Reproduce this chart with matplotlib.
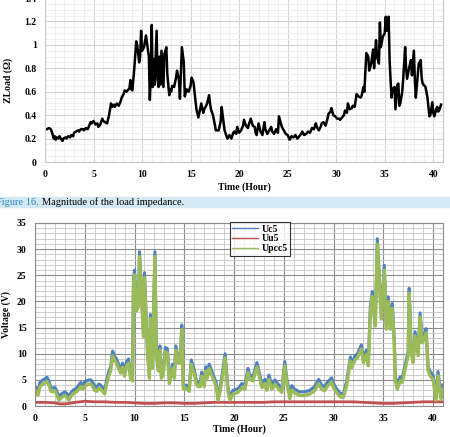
import matplotlib.pyplot as plt
from matplotlib.ticker import MultipleLocator
import matplotlib.patches as mpatches

# Load impedance (top chart)
z_time = [0.0, 0.2, 0.4, 0.6, 0.7, 0.9, 1.0, 1.1, 1.2, 1.4, 1.5, 1.7, 1.8, 1.9, 2.1, 2.2, 2.4, 2.6,
          2.7, 2.9, 3.0, 3.2, 3.4, 3.5, 3.7, 3.9, 4.0, 4.2, 4.4, 4.5, 4.7, 4.8, 5.0, 5.2, 5.4, 5.5,
          5.7, 5.9, 6.0, 6.2, 6.4, 6.6, 6.8, 6.9, 7.1, 7.2, 7.4, 7.6, 7.8, 7.9, 8.1, 8.2, 8.4, 8.6,
          8.7, 8.8, 8.9, 9.0, 9.2, 9.4, 9.5, 9.7, 9.8, 9.9, 10.0, 10.2, 10.4, 10.5, 10.7, 10.8, 10.9,
          11.0, 11.1, 11.2, 11.3, 11.5, 11.6, 11.7, 11.8, 11.9, 12.0, 12.1, 12.2, 12.3, 12.5, 12.6,
          12.8, 12.9, 13.0, 13.1, 13.3, 13.5, 13.6, 13.8, 13.9, 14.1, 14.3, 14.4, 14.6, 14.8, 15.0,
          15.1, 15.3, 15.4, 15.6, 15.8, 15.9, 16.1, 16.3, 16.4, 16.6, 16.7, 16.9, 17.0, 17.1, 17.3,
          17.4, 17.6, 17.9, 18.1, 18.2, 18.3, 18.5, 18.7, 18.8, 19.0, 19.2, 19.4, 19.5, 19.7, 19.8,
          20.0, 20.2, 20.4, 20.5, 20.7, 20.9, 21.0, 21.2, 21.4, 21.6, 21.7, 21.8, 22.0, 22.2, 22.4,
          22.6, 22.7, 22.9, 23.1, 23.3, 23.4, 23.6, 23.8, 24.0, 24.1, 24.3, 24.4, 24.6, 24.8, 25.0,
          25.2, 25.4, 25.6, 25.8, 26.0, 26.2, 26.4, 26.5, 26.7, 26.9, 27.1, 27.3, 27.5, 27.7, 27.9,
          28.0, 28.2, 28.4, 28.5, 28.7, 28.9, 29.1, 29.2, 29.4, 29.5, 29.7, 29.9, 30.1, 30.3, 30.4,
          30.6, 30.8, 30.9, 31.1, 31.2, 31.4, 31.6, 31.7, 31.9, 32.1, 32.3, 32.5, 32.6, 32.8, 32.9,
          33.1, 33.3, 33.4, 33.6, 33.8, 33.9, 34.1, 34.2, 34.4, 34.5, 34.6, 34.8, 35.0, 35.1, 35.2,
          35.4, 35.5, 35.6, 35.7, 35.8, 36.0, 36.1, 36.3, 36.4, 36.5, 36.6, 36.8, 36.9, 37.1, 37.2,
          37.3, 37.5, 37.7, 37.8, 38.0, 38.1, 38.2, 38.4, 38.5, 38.7, 38.8, 38.9, 39.1, 39.2, 39.4,
          39.6, 39.7, 39.9, 40.0, 40.1, 40.3, 40.4, 40.5, 40.6, 40.8]
z_load = [0.28, 0.28, 0.29, 0.28, 0.26, 0.20, 0.22, 0.19, 0.21, 0.20, 0.22, 0.19, 0.18, 0.20, 0.21,
          0.20, 0.22, 0.21, 0.23, 0.22, 0.25, 0.26, 0.27, 0.26, 0.28, 0.28, 0.27, 0.29, 0.28, 0.30,
          0.34, 0.33, 0.35, 0.32, 0.33, 0.30, 0.32, 0.37, 0.35, 0.34, 0.33, 0.40, 0.50, 0.47, 0.49,
          0.47, 0.50, 0.48, 0.52, 0.55, 0.58, 0.61, 0.60, 0.62, 0.63, 0.70, 0.62, 0.61, 0.80, 1.03,
          1.00, 0.85, 0.90, 1.12, 0.95, 0.98, 1.08, 1.02, 0.90, 0.53, 0.75, 1.17, 0.64, 0.88, 0.66,
          1.12, 0.70, 0.64, 0.90, 0.66, 0.95, 0.80, 0.64, 0.92, 0.98, 0.75, 0.57, 0.62, 0.60, 0.65,
          0.64, 0.72, 0.78, 0.70, 0.54, 0.98, 0.85, 0.56, 0.62, 0.60, 0.65, 0.72, 0.68, 0.60, 0.45,
          0.38, 0.42, 0.50, 0.42, 0.45, 0.48, 0.50, 0.57, 0.50, 0.45, 0.40, 0.36, 0.27, 0.27, 0.35,
          0.47, 0.40, 0.27, 0.22, 0.20, 0.23, 0.20, 0.25, 0.26, 0.24, 0.30, 0.25, 0.27, 0.31, 0.36,
          0.31, 0.29, 0.32, 0.37, 0.31, 0.30, 0.25, 0.23, 0.33, 0.26, 0.23, 0.34, 0.28, 0.24, 0.27,
          0.30, 0.26, 0.24, 0.28, 0.25, 0.39, 0.33, 0.30, 0.27, 0.24, 0.23, 0.19, 0.22, 0.21, 0.23,
          0.20, 0.22, 0.24, 0.26, 0.23, 0.24, 0.26, 0.25, 0.29, 0.28, 0.33, 0.30, 0.27, 0.30, 0.33,
          0.34, 0.31, 0.37, 0.41, 0.43, 0.46, 0.40, 0.39, 0.37, 0.37, 0.36, 0.38, 0.40, 0.44, 0.42,
          0.50, 0.45, 0.46, 0.48, 0.47, 0.58, 0.56, 0.55, 0.56, 0.64, 0.60, 0.93, 0.90, 0.78, 0.84,
          0.96, 0.80, 1.04, 0.90, 0.84, 1.19, 0.98, 1.07, 1.10, 1.24, 1.12, 1.24, 0.87, 0.70, 0.55,
          0.62, 0.64, 0.45, 0.66, 0.67, 0.48, 0.50, 0.60, 0.71, 0.98, 0.80, 0.71, 0.80, 0.87, 0.74,
          0.95, 0.70, 0.55, 0.75, 0.84, 0.87, 0.72, 0.67, 0.65, 0.64, 0.55, 0.39, 0.40, 0.51, 0.42,
          0.39, 0.45, 0.47, 0.43, 0.44, 0.49]

# Voltages (bottom chart)
v_time = [0.0, 0.3, 0.5, 0.8, 1.0, 1.2, 1.4, 1.6, 1.8, 2.0, 2.2, 2.4, 2.6, 2.8, 3.0, 3.2, 3.4, 3.6,
          3.8, 4.0, 4.2, 4.4, 4.6, 4.8, 5.0, 5.2, 5.4, 5.6, 5.8, 6.0, 6.2, 6.4, 6.6, 6.8, 7.0, 7.2,
          7.4, 7.6, 7.8, 8.0, 8.2, 8.4, 8.6, 8.8, 9.0, 9.2, 9.4, 9.6, 9.8, 9.9, 10.0, 10.2, 10.4,
          10.5, 10.7, 10.9, 11.0, 11.2, 11.3, 11.5, 11.6, 11.8, 12.05, 12.2, 12.4, 12.55, 12.7,
          12.9, 13.1, 13.3, 13.5, 13.8, 14.0, 14.15, 14.4, 14.6, 14.75, 14.9, 15.2, 15.5, 15.7,
          16.0, 16.2, 16.4, 16.6, 16.75, 17.0, 17.15, 17.3, 17.5, 17.8, 18.0, 18.2, 18.4, 18.6,
          18.8, 19.1, 19.4, 19.6, 19.9, 20.4, 20.8, 21.1, 21.4, 21.6, 21.9, 22.3, 22.6, 22.8, 23.1,
          23.3, 23.5, 23.8, 24.1, 24.5, 24.8, 25.1, 25.3, 25.6, 25.8, 26.1, 26.6, 27.1, 27.6, 28.1,
          28.5, 28.8, 29.1, 29.4, 29.8, 30.0, 30.3, 30.7, 31.0, 31.3, 31.7, 31.8, 32.2, 32.4, 32.8,
          33.0, 33.3, 33.5, 33.7, 33.9, 34.1, 34.2, 34.4, 34.6, 34.8, 35.1, 35.3, 35.5, 35.7, 35.9,
          36.1, 36.2, 36.4, 36.7, 36.9, 37.2, 37.5, 37.6, 37.8, 38.0, 38.2, 38.5, 38.7, 38.9, 39.1,
          39.3, 39.5, 39.7, 40.0, 40.3, 40.5, 40.8, 40.9]
uc5 = [3.8, 2.8, 4.5, 5.0, 5.2, 5.5, 4.8, 3.5, 3.4, 3.6, 2.8, 1.8, 2.2, 2.5, 2.7, 2.4, 1.8, 2.5,
       3.0, 3.2, 3.5, 4.0, 4.5, 4.0, 4.6, 4.8, 5.0, 5.0, 4.5, 3.8, 3.5, 4.2, 4.0, 3.5, 3.0, 5.0,
       6.5, 7.5, 10.5, 9.5, 9.0, 8.0, 7.0, 8.2, 6.5, 8.5, 9.0, 6.0, 5.5, 24.5, 26.0, 19.0, 20.0,
       29.5, 22.0, 14.0, 25.5, 16.0, 11.0, 6.0, 17.5, 8.0, 29.5, 10.0, 7.5, 11.5, 6.0,
       7.0, 11.2, 11.0, 5.0, 8.0, 6.0, 11.5, 9.0, 9.0, 15.5, 4.0, 4.0, 3.5, 8.8,
       7.0, 5.0, 4.5, 4.5, 6.5, 4.5, 7.5, 6.0, 8.0, 6.5, 5.5, 4.5, 1.8, 3.5,
       6.0, 10.0, 3.3, 1.8, 3.0, 3.3, 4.3, 4.0, 7.2, 5.9, 5.6, 8.3, 5.9, 4.3, 5.1,
       3.7, 5.9, 4.0, 5.0, 4.0, 3.3, 8.5, 5.3, 2.1, 3.9, 3.2, 2.7, 2.7, 3.0, 3.7,
       5.1, 4.0, 3.7, 4.6, 5.4, 4.3, 3.3, 2.4, 2.4, 4.6, 9.4, 8.1, 9.7, 10.0, 11.7,
       9.1, 10.7, 8.5, 19.0, 21.9, 17.4, 16.1, 32.0, 24.7, 17.4, 26.9, 15.5, 20.9, 15.5, 19.6,
       12.9, 5.9, 4.0, 5.6, 5.3, 7.9, 10.4, 22.5, 11.0, 9.1, 14.2, 10.4, 17.8, 12.9, 13.6,
       14.8, 7.6, 6.6, 5.9, 1.8, 6.6, 2.1, 4.0]
upcc5 = [3.0, 2.1, 3.7, 4.2, 4.4, 4.7, 4.0, 2.8, 2.7, 2.9, 2.1, 1.1, 1.5, 1.8, 2.0, 1.7, 1.1, 1.8,
         2.3, 2.5, 2.8, 3.2, 3.7, 3.2, 3.8, 4.0, 4.2, 4.2, 3.7, 3.0, 2.8, 3.4, 3.2, 2.8, 2.3, 4.2,
         5.7, 6.7, 9.6, 8.7, 8.2, 7.2, 6.3, 7.4, 5.7, 7.7, 8.2, 5.3, 4.8, 23.6, 25.1, 18.2, 19.2,
         28.6, 21.1, 13.2, 24.6, 15.2, 10.2, 5.3, 16.7, 7.2, 28.6, 9.2, 6.7, 10.7, 5.3,
         6.2, 10.4, 10.2, 4.3, 7.2, 5.3, 10.7, 8.2, 8.2, 14.6, 3.3, 3.3, 2.8, 8.0,
         6.2, 4.3, 3.7, 3.7, 5.7, 3.7, 6.7, 5.3, 7.2, 5.7, 4.8, 3.7, 1.1, 2.8,
         5.2, 9.2, 2.6, 1.1, 2.3, 2.6, 3.5, 3.2, 6.4, 5.1, 4.8, 7.5, 5.1, 3.5, 4.3,
         3.0, 5.1, 3.2, 4.2, 3.2, 2.6, 7.7, 4.5, 1.4, 3.1, 2.5, 2.0, 2.0, 2.3, 2.9,
         4.3, 3.2, 2.9, 3.8, 4.6, 3.5, 2.6, 1.7, 1.7, 3.8, 8.6, 7.3, 8.9, 9.2, 10.9,
         8.3, 9.9, 7.7, 18.2, 21.0, 16.6, 15.3, 31.0, 23.8, 16.6, 26.0, 14.7, 20.0, 14.7, 18.7,
         12.1, 5.1, 3.2, 4.8, 4.5, 7.1, 9.6, 21.6, 10.2, 8.3, 13.4, 9.6, 17.0, 12.1, 12.8,
         14.0, 6.8, 5.8, 5.1, 1.1, 5.8, 1.4, 3.2]
uu5_time = [0, 1, 2, 2.5, 3, 3.5, 4, 5, 6, 7, 8, 9, 10, 11, 12, 13, 14, 15, 16, 17, 18, 19, 20,
            21, 22, 23, 24, 25, 26, 27, 28, 29, 30, 31, 32, 33, 34, 35, 36, 37, 38, 39, 40, 40.9]
uu5 = [0.7, 0.7, 0.6, 0.4, 0.4, 0.5, 0.7, 0.9, 0.8, 0.8, 0.7, 0.7, 0.6, 0.5, 0.5, 0.6, 0.6, 0.5,
       0.5, 0.6, 0.7, 0.7, 0.7, 0.7, 0.7, 0.7, 0.8, 0.8, 0.8, 0.8, 0.8, 0.8, 0.8, 0.8, 0.8, 0.7,
       0.6, 0.5, 0.5, 0.6, 0.7, 0.8, 0.8, 0.8]

plt.rcParams['font.family'] = ['Liberation Serif', 'DejaVu Serif']

fig = plt.figure(figsize=(4.5, 4.37), dpi=100)

# ---- top chart ----
ax1 = fig.add_axes([45 / 450, 1 - 162 / 437, 398 / 450, 164 / 437])
ax1.plot(z_time, z_load, color='black', lw=1.8)
ax1.set_xlim(0, 41)
ax1.set_ylim(0, 1.4)
ax1.xaxis.set_major_locator(MultipleLocator(5))
ax1.xaxis.set_minor_locator(MultipleLocator(1))
ax1.yaxis.set_minor_locator(MultipleLocator(0.05))
ax1.set_yticks([0, 0.2, 0.4, 0.6, 0.8, 1.0, 1.2, 1.4])
ax1.set_yticklabels(['0', '0.2', '0.4', '0.6', '0.8', '1', '1.2', '1.4'])
ax1.grid(which='major', color='#d4d4d4', lw=0.8)
ax1.grid(which='minor', color='#ececec', lw=0.6)
ax1.set_axisbelow(True)
for s in ax1.spines.values():
    s.set_color('#c8c8c8')
ax1.tick_params(which='both', length=0, labelsize=7, pad=6)
for lab in ax1.get_xticklabels() + ax1.get_yticklabels():
    lab.set_fontweight('bold')
ax1.set_xlabel('Time (Hour)', fontsize=7, fontweight='bold', labelpad=2)
ax1.set_ylabel('ZLoad (Ω)', fontsize=7, fontweight='bold', labelpad=8)

# ---- caption band ----
fig.patches.append(mpatches.Rectangle((0, 1 - 207 / 437), 1, 10 / 437, transform=fig.transFigure,
                                      color='#d3e9f3', zorder=0))
cap = fig.text(-0.008, 1 - 205 / 437, 'Figure 16.', color='#2e86c1', fontsize=7.5)
fig.canvas.draw()
bb = cap.get_window_extent()
fig.text(bb.x1 / fig.bbox.width + 0.006, 1 - 205 / 437, 'Magnitude of the load impedance.',
         color='black', fontsize=7.5)

# ---- bottom chart ----
ax2 = fig.add_axes([35 / 450, 1 - 406 / 437, 408 / 450, 183 / 437])
ax2.plot(v_time, uc5, color='#4f81bd', lw=2.2, label='Uc5')
ax2.plot(uu5_time, uu5, color='#c0504d', lw=2.0, label='Uu5')
ax2.plot(v_time, upcc5, color='#9bbb59', lw=2.4, label='Upcc5')
ax2.set_xlim(0, 41)
ax2.set_ylim(0, 35)
ax2.xaxis.set_major_locator(MultipleLocator(5))
ax2.xaxis.set_minor_locator(MultipleLocator(1))
ax2.yaxis.set_major_locator(MultipleLocator(5))
ax2.yaxis.set_minor_locator(MultipleLocator(1))
ax2.grid(which='major', color='#8c8c8c', lw=0.8)
ax2.grid(which='minor', color='#c4c4c4', lw=0.6)
ax2.set_axisbelow(True)
for s in ax2.spines.values():
    s.set_color('#8c8c8c')
ax2.tick_params(which='both', length=0, labelsize=7, pad=6)
for lab in ax2.get_xticklabels() + ax2.get_yticklabels():
    lab.set_fontweight('bold')
ax2.set_xlabel('Time (Hour)', fontsize=7, fontweight='bold', labelpad=1)
ax2.set_ylabel('Voltage (V)', fontsize=7, fontweight='bold', labelpad=4)
leg = ax2.legend(loc='upper left', bbox_to_anchor=(0.478, 1.005), fontsize=7, frameon=True,
                 fancybox=False, handlelength=2.6, borderpad=0.25, labelspacing=0.1,
                 handletextpad=0.4, borderaxespad=0)
leg.get_frame().set_edgecolor('black')
leg.get_frame().set_linewidth(0.8)
for line in leg.get_lines():
    line.set_linewidth(1.0)
for t in leg.get_texts():
    t.set_fontweight('bold')

fig.savefig('out.png', dpi=100)
